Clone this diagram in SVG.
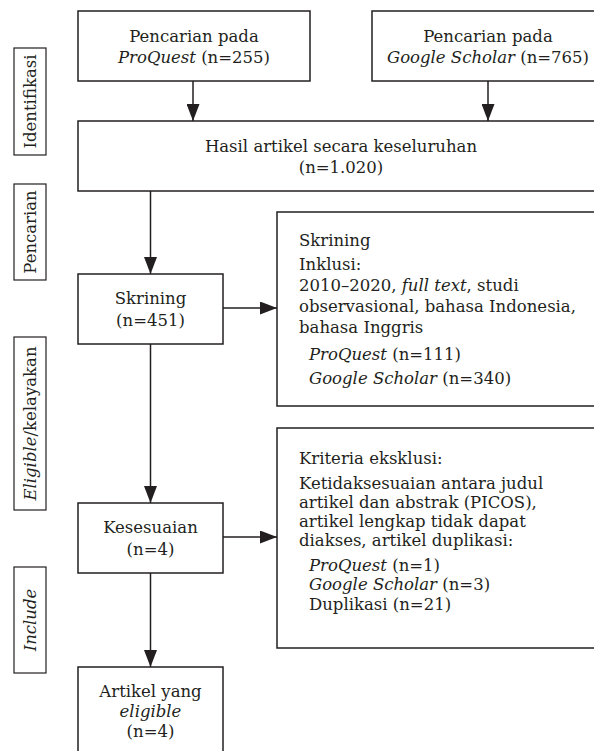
<svg xmlns="http://www.w3.org/2000/svg" width="594" height="751" viewBox="0 0 594 751">
<defs>
<style>
.box{fill:#fff;stroke:#231f20;stroke-width:1.5}
.lbl{fill:#fff;stroke:#231f20;stroke-width:1.2}
.t{font-family:"DejaVu Serif","Liberation Serif",serif;font-size:16.5px;fill:#231f20}
.c{text-anchor:middle}
.i{font-style:italic}
.ln{stroke:#231f20;stroke-width:1.5;fill:none}
</style>
<marker id="ah" markerUnits="userSpaceOnUse" markerWidth="17" markerHeight="13" refX="17" refY="6.5" orient="auto">
<path d="M0,0 L17,6.5 L0,13 Z" fill="#231f20"/>
</marker>
</defs>
<rect width="594" height="751" fill="#fff"/>

<g id="stage-identifikasi">
<rect class="lbl" x="14" y="48" width="32" height="107"/>
<text class="t c" transform="translate(36,101.5) rotate(-90)">Identifikasi</text>
</g>
<g id="stage-pencarian">
<rect class="lbl" x="14" y="184" width="32" height="96"/>
<text class="t c" transform="translate(36,232) rotate(-90)">Pencarian</text>
</g>
<g id="stage-eligible">
<rect class="lbl" x="14" y="337" width="32" height="173"/>
<text class="t c" transform="translate(36,423.5) rotate(-90)"><tspan class="i">Eligible</tspan>/kelayakan</text>
</g>
<g id="stage-include">
<rect class="lbl" x="14" y="567" width="32" height="106"/>
<text class="t c i" transform="translate(36,620) rotate(-90)">Include</text>
</g>

<g id="connectors">
<line class="ln" x1="193" y1="81" x2="193" y2="121" marker-end="url(#ah)"/>
<line class="ln" x1="488" y1="81" x2="488" y2="121" marker-end="url(#ah)"/>
<line class="ln" x1="150.5" y1="191" x2="150.5" y2="274" marker-end="url(#ah)"/>
<line class="ln" x1="223" y1="308" x2="277" y2="308" marker-end="url(#ah)"/>
<line class="ln" x1="150.5" y1="344" x2="150.5" y2="503" marker-end="url(#ah)"/>
<line class="ln" x1="223" y1="537" x2="277" y2="537" marker-end="url(#ah)"/>
<line class="ln" x1="150.5" y1="573" x2="150.5" y2="667" marker-end="url(#ah)"/>
</g>

<g id="proquest">
<rect class="box" x="78" y="11" width="232" height="70"/>
<text class="t c" x="194" y="42">Pencarian pada</text>
<text class="t c" x="194" y="63"><tspan class="i">ProQuest</tspan> (n=255)</text>
</g>
<g id="scholar">
<rect class="box" x="372" y="11" width="240" height="70"/>
<text class="t c" x="488" y="42">Pencarian pada</text>
<text class="t c" x="488" y="63"><tspan class="i">Google Scholar</tspan> (n=765)</text>
</g>
<g id="hasil">
<rect class="box" x="78" y="121" width="534" height="70"/>
<text class="t c" x="341" y="152">Hasil artikel secara keseluruhan</text>
<text class="t c" x="341" y="173">(n=1.020)</text>
</g>
<g id="skrining">
<rect class="box" x="78" y="274" width="145" height="70"/>
<text class="t c" x="150.5" y="304">Skrining</text>
<text class="t c" x="150.5" y="326">(n=451)</text>
</g>
<g id="skrining-detail">
<rect class="box" x="277" y="212" width="335" height="194"/>
<text class="t" x="299" y="246">Skrining</text>
<text class="t" x="299" y="270">Inklusi:</text>
<text class="t" x="299" y="291">2010–2020, <tspan class="i">full text</tspan>, studi</text>
<text class="t" x="299" y="312">observasional, bahasa Indonesia,</text>
<text class="t" x="299" y="333">bahasa Inggris</text>
<text class="t" x="309" y="360"><tspan class="i">ProQuest</tspan> (n=111)</text>
<text class="t" x="309" y="384"><tspan class="i">Google Scholar</tspan> (n=340)</text>
</g>
<g id="kesesuaian">
<rect class="box" x="78" y="503" width="145" height="70"/>
<text class="t c" x="150.5" y="533">Kesesuaian</text>
<text class="t c" x="150.5" y="555">(n=4)</text>
</g>
<g id="eksklusi">
<rect class="box" x="277" y="428" width="335" height="220"/>
<text class="t" x="299" y="464">Kriteria eksklusi:</text>
<text class="t" x="299" y="489">Ketidaksesuaian antara judul</text>
<text class="t" x="299" y="508">artikel dan abstrak (PICOS),</text>
<text class="t" x="299" y="527">artikel lengkap tidak dapat</text>
<text class="t" x="299" y="546">diakses, artikel duplikasi:</text>
<text class="t" x="309" y="571"><tspan class="i">ProQuest</tspan> (n=1)</text>
<text class="t" x="309" y="590"><tspan class="i">Google Scholar</tspan> (n=3)</text>
<text class="t" x="309" y="610">Duplikasi (n=21)</text>
</g>
<g id="artikel">
<rect class="box" x="78" y="667" width="145" height="100"/>
<text class="t c" x="150.5" y="697">Artikel yang</text>
<text class="t c i" x="150.5" y="717">eligible</text>
<text class="t c" x="150.5" y="737">(n=4)</text>
</g>
</svg>
